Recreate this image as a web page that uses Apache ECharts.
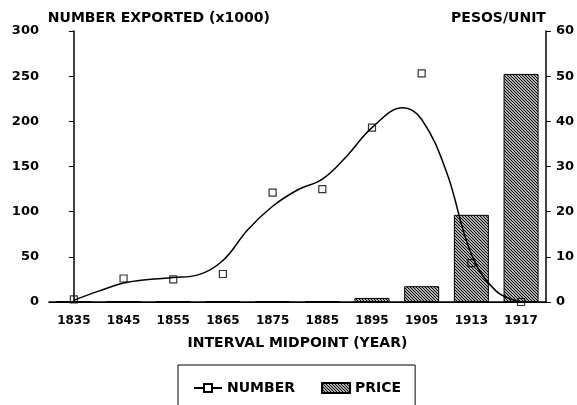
<!DOCTYPE html>
<html>
<head>
<meta charset="utf-8">
<script src="https://cdn.jsdelivr.net/npm/echarts@6/dist/echarts.min.js"></script>
<style>
  html, body { margin: 0; padding: 0; background: #fff; }
  #chart { width: 577px; height: 405px; }
</style>
</head>
<body>
<div id="chart"></div>
<script>
// data
const years = ['1835', '1845', '1855', '1865', '1875', '1885', '1895', '1905', '1913', '1917'];
const numberExported = [3, 26, 25, 31, 121, 125, 193, 253, 43, 0];
const pricePerUnit = [0.15, 0.15, 0.15, 0.15, 0.15, 0.15, 0.9, 3.5, 19.3, 50.5];
// fitted curve, read at half-interval steps (x = category index)
const curveX = [0, 0.5, 1, 1.5, 2, 2.5, 3, 3.5, 4, 4.5, 5, 5.5, 6, 6.62, 7, 7.5, 8, 8.5, 9];
const curveY = [2, 12, 21, 25, 27, 30, 46, 80, 106, 124, 136, 162, 193, 215, 202, 144, 53, 12, 0];

const font = 'DejaVu Sans';
const txt = { color: '#000', fontFamily: font, fontWeight: 'bold', fontSize: 12 };
const big = Object.assign({}, txt, { fontSize: 14 });
const yTxt = Object.assign({}, txt, { fontSize: 13 });

function hatch() {
    const c = document.createElement('canvas');
    c.width = 3; c.height = 3;
    const g = c.getContext('2d');
    g.fillStyle = '#fff';
    g.fillRect(0, 0, 3, 3);
    g.strokeStyle = '#000';
    g.lineWidth = 1.2;
    g.beginPath();
    g.moveTo(-1, -1); g.lineTo(4, 4);
    g.moveTo(-3, 0); g.lineTo(1, 4);
    g.moveTo(2, -1); g.lineTo(4, 1);
    g.stroke();
    return c;
}

const chart = echarts.init(document.getElementById('chart'));
chart.setOption({
    animation: false,
    grid: { left: 49, right: 30, top: 31, bottom: 103 },
    legend: {
        left: 178, top: 365,
        width: 240,
        borderColor: '#000', borderWidth: 1,
        padding: [16, 14, 30, 15],
        itemGap: 26,
        itemWidth: 28, itemHeight: 10,
        textStyle: big,
        data: [{ name: 'NUMBER' }, { name: 'PRICE', icon: 'rect' }]
    },
    xAxis: [
        {
            type: 'category',
            data: years,
            name: 'INTERVAL MIDPOINT (YEAR)',
            nameLocation: 'middle',
            nameGap: 34,
            nameTextStyle: big,
            axisLine: { lineStyle: { color: '#000', width: 1.5 } },
            axisTick: { alignWithLabel: true, length: 5, lineStyle: { color: '#000' } },
            axisLabel: Object.assign({ margin: 13 }, txt)
        },
        {
            type: 'value',
            position: 'top',
            min: -0.5, max: 9.5,
            axisLine: { show: true, lineStyle: { color: '#000', width: 1 } },
            axisTick: { show: false },
            axisLabel: { show: false },
            splitLine: { show: false }
        }
    ],
    yAxis: [
        {
            type: 'value',
            min: 0, max: 300, interval: 50,
            name: 'NUMBER EXPORTED (x1000)',
            nameLocation: 'end',
            nameGap: 6,
            nameTextStyle: Object.assign({ align: 'left', padding: [0, 0, 0, -26] }, big),
            axisLine: { show: true, lineStyle: { color: '#000', width: 1.5 } },
            axisTick: { show: true, length: 5, lineStyle: { color: '#000' } },
            axisLabel: Object.assign({ margin: 10 }, yTxt),
            splitLine: { show: false }
        },
        {
            type: 'value',
            min: 0, max: 60, interval: 10,
            name: 'PESOS/UNIT',
            nameLocation: 'end',
            nameGap: 6,
            nameTextStyle: Object.assign({ align: 'right' }, big),
            axisLine: { show: true, lineStyle: { color: '#000', width: 1.5 } },
            axisTick: { show: true, length: 5, lineStyle: { color: '#000' } },
            axisLabel: Object.assign({ margin: 10 }, yTxt),
            splitLine: { show: false }
        }
    ],
    series: [
        {
            name: 'PRICE',
            type: 'bar',
            yAxisIndex: 1,
            xAxisIndex: 0,
            barWidth: 35,
            data: pricePerUnit,
            itemStyle: { color: { image: hatch(), repeat: 'repeat' }, borderColor: '#000', borderWidth: 1 },
            z: 1
        },
        {
            name: 'NUMBER',
            type: 'line',
            xAxisIndex: 1,
            yAxisIndex: 0,
            smooth: 0.4,
            symbol: 'rect',
            symbolSize: 7,
            showSymbol: false,
            data: curveX.map((x, i) => [x, curveY[i]]),
            lineStyle: { color: '#000', width: 1.5 },
            itemStyle: { color: '#fff', borderColor: '#000', borderWidth: 1.2 },
            z: 3
        },
        {
            name: 'NUMBER',
            type: 'scatter',
            xAxisIndex: 0,
            yAxisIndex: 0,
            symbol: 'rect',
            symbolSize: 7,
            data: numberExported,
            itemStyle: { color: 'rgba(255,255,255,0)', borderColor: '#000', borderWidth: 1.2 },
            z: 4
        }
    ]
});
</script>
</body>
</html>
